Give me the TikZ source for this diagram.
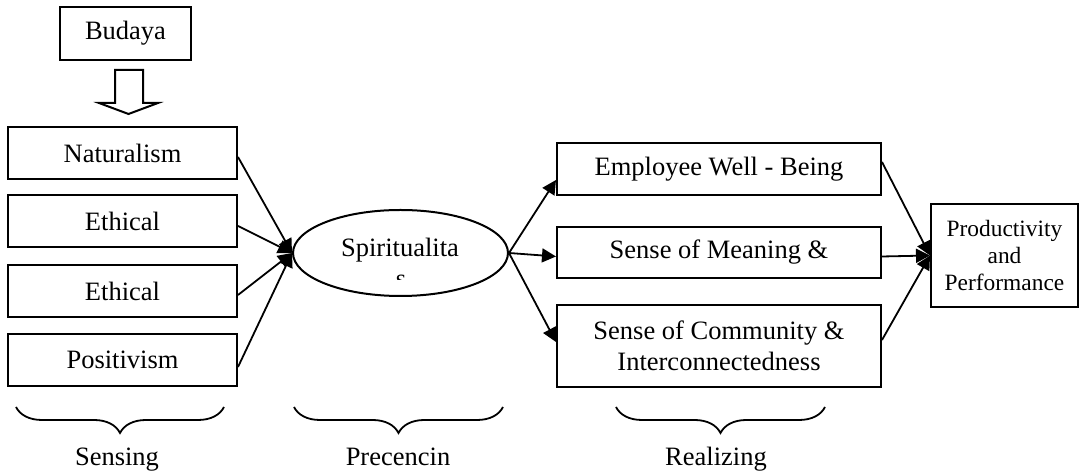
\documentclass[tikz,border=0pt]{standalone}
\usepackage{fontspec}
\setmainfont{Liberation Serif}
\usetikzlibrary{arrows.meta,shapes.geometric,decorations.pathreplacing}
\begin{document}
\begin{tikzpicture}[x=0.5pt,y=-0.5pt,
 box/.style={draw,line width=1pt,inner sep=0pt,align=center,font=\fontsize{13.25}{15.5}\selectfont},
 arr/.style={line width=0.9pt,-{Triangle[length=7pt,width=7pt]}},
 lbl/.style={font=\fontsize{13.25}{15.5}\selectfont,inner sep=0pt},
 brc/.style={decorate,decoration={brace,mirror,amplitude=13pt},line width=0.9pt}]
\useasboundingbox (0,0) rectangle (1084,474);
% top
\node[box,minimum width=65.5pt,minimum height=26.5pt] (bud) at (125.5,33.5) {Budaya};
\draw[line width=1pt] (115,70) -- (143,70) -- (143,103) -- (158,103) -- (128.5,114) -- (99,103) -- (115,103) -- cycle;
% left boxes
\node[box,minimum width=114.5pt,minimum height=26pt] (n1) at (122.5,153) {Naturalism};
\node[box,minimum width=114.5pt,minimum height=26pt] (n2) at (122.5,221) {Ethical};
\node[box,minimum width=114.5pt,minimum height=26pt] (n3) at (122.5,291) {Ethical};
\node[box,minimum width=114.5pt,minimum height=26pt] (n4) at (122.5,360) {Positivism};
% ellipse
\node[draw,ellipse,line width=1pt,minimum width=107.5pt,minimum height=43pt,inner sep=0pt] (sp) at (400.5,253) {};
\node[lbl,anchor=base] (spt) at (400,257) {Spiritualita};
\begin{scope}
\clip (380,270) rectangle (420,280);
\node[lbl,anchor=base] (sps) at (401,288) {s};
\end{scope}
% right boxes
\node[box,minimum width=162pt,minimum height=26pt] (e1) at (719,169) {Employee Well - Being};
\node[box,minimum width=162pt,minimum height=25.5pt] (e2) at (719,252.5) {Sense of Meaning \&};
\node[box,minimum width=162pt,minimum height=41pt] (e3) at (719,346) {Sense of Community \&\\Interconnectedness};
\node[box,minimum width=73.5pt,minimum height=51.5pt,font=\fontsize{11.7}{13.5}\selectfont] (p) at (1004.5,255.5) {Productivity\\and\\Performance};
% arrows
\draw[arr] ([yshift=-2pt]n1.east) -- (sp.west);
\draw[arr] ([yshift=-2.5pt]n2.east) -- (sp.west);
\draw[arr] ([yshift=-2pt]n3.east) -- (sp.west);
\draw[arr] ([yshift=-3.5pt]n4.east) -- (sp.west);
\draw[arr] (sp.east) -- ([yshift=-5.5pt]e1.west);
\draw[arr] (sp.east) -- ([yshift=-2pt]e2.west);
\draw[arr] (sp.east) -- ([yshift=2pt]e3.west);
\draw[arr] ([yshift=3.5pt]e1.east) -- (p.west);
\draw[arr] ([yshift=-2pt]e2.east) -- (p.west);
\draw[arr] ([yshift=3pt]e3.east) -- (p.west);
% braces
\coordinate (b1a) at (16,407); \coordinate (b1b) at (224,407);
\coordinate (b2a) at (294,407); \coordinate (b2b) at (503,407);
\coordinate (b3a) at (616,407); \coordinate (b3b) at (825,407);
\draw[brc] (b1a) -- (b1b);
\draw[brc] (b2a) -- (b2b);
\draw[brc] (b3a) -- (b3b);
\node[lbl,anchor=base] (l1) at (117,466) {Sensing};
\node[lbl,anchor=base] (l2) at (398,466) {Precencin};
\node[lbl,anchor=base] (l3) at (716,466) {Realizing};
\end{tikzpicture}
\end{document}
